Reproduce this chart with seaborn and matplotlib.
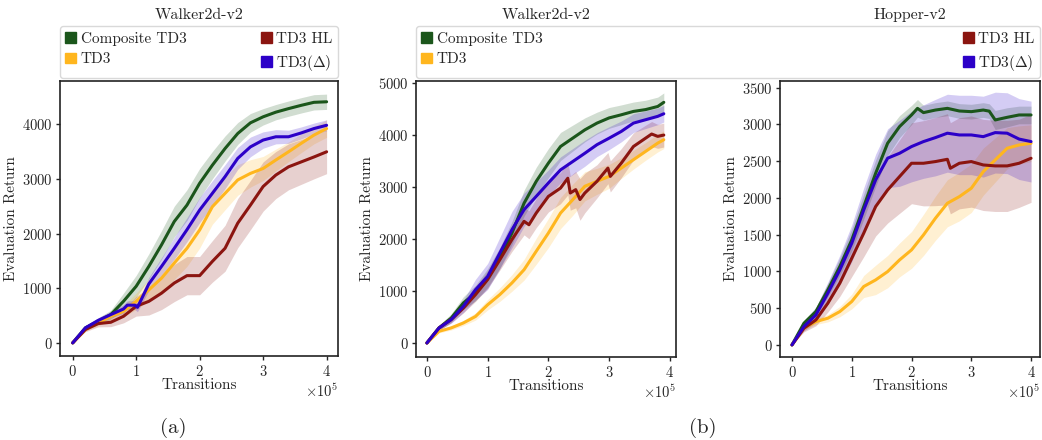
import numpy as np
import pandas as pd
import seaborn as sns
import matplotlib.pyplot as plt
from matplotlib.patches import Patch

# x positions in units of 1e5 transitions
grid = [0, 0.2, 0.4, 0.6, 0.8, 1.0, 1.2, 1.4, 1.6, 1.8, 2.0,
        2.2, 2.4, 2.6, 2.8, 3.0, 3.2, 3.4, 3.6, 3.8, 4.0]
grid_b1 = [0, 0.2, 0.4, 0.6, 0.8, 1.0, 1.2, 1.4, 1.6, 1.8, 2.0,
           2.2, 2.4, 2.6, 2.8, 3.0, 3.2, 3.4, 3.6, 3.8, 3.9]

# ---- (a) Walker2d-v2
a_comp = [0, 275, 395, 517, 760, 1035, 1400, 1795, 2220, 2520, 2920,
          3250, 3555, 3830, 4025, 4135, 4220, 4285, 4345, 4400, 4410]
a_comp_sd = [0, 40, 60, 80, 150, 200, 230, 260, 280, 280, 270,
             250, 230, 200, 170, 150, 140, 140, 140, 140, 140]
a_td3 = [0, 245, 365, 486, 577, 760, 970, 1185, 1460, 1730, 2065,
         2490, 2735, 2980, 3100, 3190, 3345, 3495, 3650, 3800, 3920]
a_td3_sd = [0, 30, 50, 70, 100, 150, 200, 250, 300, 330, 330,
            320, 300, 280, 250, 220, 200, 180, 170, 160, 160]
a_hl = [0, 245, 353, 377, 486, 670, 760, 910, 1095, 1230, 1230,
        1490, 1730, 2190, 2520, 2860, 3070, 3220, 3310, 3400, 3495]
a_hl_sd = [0, 40, 60, 80, 120, 180, 250, 300, 340, 350, 350,
           380, 420, 450, 450, 450, 430, 420, 410, 400, 400]
a_delta_x = [0, 0.2, 0.4, 0.6, 0.8, 0.86, 0.98, 1.02, 1.2, 1.4, 1.6, 1.8,
             2.0, 2.2, 2.4, 2.6, 2.8, 3.0, 3.2, 3.4, 3.6, 3.8, 4.0]
a_delta = [0, 275, 410, 517, 620, 690, 690, 650, 1080, 1400, 1730, 2070,
           2430, 2735, 3040, 3375, 3585, 3710, 3770, 3770, 3840, 3920, 3980]
a_delta_sd = [0, 40, 50, 60, 80, 80, 80, 80, 120, 160, 200, 220,
              230, 230, 220, 200, 180, 150, 130, 120, 110, 100, 100]

# ---- (b) Walker2d-v2
b1_comp = [0, 290, 480, 770, 960, 1250, 1635, 2115, 2690, 3110, 3460,
           3780, 3940, 4100, 4230, 4330, 4390, 4455, 4490, 4550, 4630]
b1_comp_sd = [0, 50, 80, 120, 150, 180, 200, 220, 250, 270, 280,
              270, 250, 230, 210, 200, 190, 180, 180, 180, 180]
b1_td3 = [0, 225, 290, 385, 510, 735, 930, 1155, 1410, 1765, 2115,
          2500, 2755, 3015, 3110, 3205, 3365, 3525, 3685, 3845, 3910]
b1_td3_sd = [0, 30, 40, 50, 70, 100, 130, 160, 200, 250, 280,
             300, 300, 280, 250, 230, 200, 180, 170, 170, 170]
b1_delta = [0, 290, 450, 705, 1025, 1280, 1730, 2180, 2565, 2820, 3080,
            3330, 3490, 3650, 3815, 3940, 4070, 4230, 4295, 4360, 4410]
b1_delta_sd = [0, 40, 70, 120, 200, 250, 300, 350, 320, 280, 250,
               250, 250, 250, 230, 220, 200, 180, 170, 160, 160]
b1_hl_x = [0, 0.2, 0.4, 0.6, 0.8, 1.0, 1.2, 1.4, 1.6, 1.68, 1.8, 2.0, 2.2, 2.32,
           2.36, 2.45, 2.52, 2.6, 2.8, 2.98, 3.02, 3.2, 3.4, 3.6, 3.7, 3.8, 3.9]
b1_hl = [0, 290, 450, 670, 930, 1220, 1600, 1990, 2340, 2275, 2500, 2820, 2980, 3170,
         2885, 2950, 2760, 2885, 3110, 3365, 3205, 3460, 3780, 3940, 4020, 3975, 4000]
b1_hl_sd = [0, 40, 60, 90, 130, 170, 200, 230, 260, 270, 280, 300, 300, 320,
            330, 350, 400, 380, 320, 300, 300, 280, 260, 250, 240, 230, 230]

# ---- (b) Hopper-v2
b2_comp_x = [0, 0.2, 0.4, 0.6, 0.8, 1.0, 1.2, 1.4, 1.6, 1.8, 2.0, 2.1,
             2.2, 2.4, 2.6, 2.8, 3.0, 3.2, 3.3, 3.4, 3.6, 3.8, 4.0]
b2_comp = [0, 295, 453, 748, 1065, 1428, 1880, 2335, 2743, 2970, 3128, 3218,
           3160, 3195, 3218, 3182, 3173, 3195, 3180, 3060, 3096, 3128, 3128]
b2_comp_sd = [0, 40, 60, 90, 120, 150, 170, 180, 170, 150, 130, 120,
              100, 100, 100, 100, 100, 100, 100, 130, 130, 120, 120]
b2_td3 = [0, 227, 317, 363, 453, 590, 794, 884, 997, 1156, 1292,
          1496, 1723, 1927, 2017, 2131, 2357, 2516, 2675, 2720, 2743]
b2_td3_sd = [0, 30, 40, 50, 70, 100, 150, 200, 220, 230, 250,
             280, 300, 320, 330, 330, 320, 300, 280, 260, 250]
b2_delta = [0, 250, 408, 703, 1020, 1383, 1835, 2245, 2540, 2607, 2698,
            2766, 2820, 2880, 2856, 2856, 2833, 2888, 2880, 2800, 2766]
b2_delta_sd = [0, 60, 100, 150, 200, 250, 300, 350, 400, 450, 480,
               500, 520, 530, 540, 540, 550, 550, 550, 550, 550]
b2_hl_x = [0, 0.2, 0.4, 0.6, 0.8, 1.0, 1.2, 1.4, 1.6, 1.8, 2.0, 2.2, 2.4, 2.6,
           2.65, 2.8, 3.0, 3.2, 3.4, 3.6, 3.8, 4.0]
b2_hl = [0, 227, 340, 567, 839, 1179, 1519, 1882, 2108, 2290, 2471, 2471, 2494, 2525,
         2403, 2471, 2494, 2448, 2435, 2435, 2471, 2539]
b2_hl_sd = [0, 50, 80, 120, 180, 250, 320, 400, 450, 500, 550, 580, 600, 620,
            620, 620, 620, 620, 620, 620, 600, 600]

names = ["Composite TD3", "TD3", "TD3 HL", r"TD3($\Delta$)"]
colors = ["#1b561b", "#ffb61e", "#8b1510", "#2c00c8"]

sns.set_style("ticks")
plt.rcParams["font.family"] = "serif"
plt.rcParams["font.serif"] = ["cmr10"]
plt.rcParams["mathtext.fontset"] = "cm"
plt.rcParams["axes.formatter.use_mathtext"] = True
plt.rcParams["axes.unicode_minus"] = False


def build(series):
    rows = []
    for name, xs, ys, sds in series:
        for x, y, s in zip(xs, ys, sds):
            rows.append({"t": x * 1e5, "ret": y, "sd": s, "algo": name})
    return pd.DataFrame(rows)


def draw(ax, df, ylim, yticks):
    for name, c in zip(names, colors):
        d = df[df.algo == name]
        if len(d):
            ax.fill_between(d.t, d.ret - d.sd, d.ret + d.sd, color=c, alpha=0.2, lw=0)
    sns.lineplot(data=df, x="t", y="ret", hue="algo", palette=dict(zip(names, colors)),
                 legend=False, ax=ax, linewidth=2.2, sort=False, estimator=None)
    ax.set_xlim(-0.2e5, 4.18e5)
    ax.set_ylim(*ylim)
    ax.set_xticks([0, 1e5, 2e5, 3e5, 4e5])
    ax.set_yticks(yticks)
    ax.ticklabel_format(axis="x", style="sci", scilimits=(0, 0))
    ax.set_xlabel("Transitions", fontsize=11, labelpad=0)
    ax.set_ylabel("Evaluation Return", fontsize=11, labelpad=3)
    ax.tick_params(labelsize=10.5, length=3, width=1, pad=2.5)
    for sp in ax.spines.values():
        sp.set_visible(True)
        sp.set_linewidth(1.2)
        sp.set_color("#222222")
    ax.xaxis.get_offset_text().set_fontsize(10.5)


fig = plt.figure(figsize=(10.42, 4.4), dpi=100)
ax_a = fig.add_axes([0.0576, 0.1909, 0.2668, 0.625])
ax_b1 = fig.add_axes([0.3992, 0.1886, 0.2495, 0.6273])
ax_b2 = fig.add_axes([0.7486, 0.1886, 0.2495, 0.6273])

df_a = build([
    (names[0], grid, a_comp, a_comp_sd),
    (names[1], grid, a_td3, a_td3_sd),
    (names[2], grid, a_hl, a_hl_sd),
    (names[3], a_delta_x, a_delta, a_delta_sd),
])
df_b1 = build([
    (names[0], grid_b1, b1_comp, b1_comp_sd),
    (names[1], grid_b1, b1_td3, b1_td3_sd),
    (names[2], b1_hl_x, b1_hl, b1_hl_sd),
    (names[3], grid_b1, b1_delta, b1_delta_sd),
])
df_b2 = build([
    (names[0], b2_comp_x, b2_comp, b2_comp_sd),
    (names[1], grid, b2_td3, b2_td3_sd),
    (names[2], b2_hl_x, b2_hl, b2_hl_sd),
    (names[3], grid, b2_delta, b2_delta_sd),
])

draw(ax_a, df_a, (-240, 4790), [0, 1000, 2000, 3000, 4000])
draw(ax_b1, df_b1, (-270, 5040), [0, 1000, 2000, 3000, 4000, 5000])
draw(ax_b2, df_b2, (-165, 3590), [0, 500, 1000, 1500, 2000, 2500, 3000, 3500])
ax_b1.set_xlim(-0.18e5, 4.1e5)
ax_b2.set_xlim(-0.2e5, 4.15e5)

handles = [Patch(color=c, label=n) for n, c in zip(names, colors)]
leg_kw = dict(loc="lower left", mode="expand", ncol=2, fontsize=11, frameon=True,
              handlelength=0.7, handleheight=0.7, handletextpad=0.3,
              borderaxespad=0, borderpad=0.35, labelspacing=0.45, edgecolor="#d0d0d0")
fig.legend(handles=handles, bbox_to_anchor=(0.0576, 0.8227, 0.2668, 0.107), **leg_kw)
fig.legend(handles=handles, bbox_to_anchor=(0.3992, 0.8227, 0.5988, 0.107), **leg_kw)

fig.text(0.191, 0.966, "Walker2d-v2", ha="center", va="center", fontsize=11.5)
fig.text(0.524, 0.966, "Walker2d-v2", ha="center", va="center", fontsize=11.5)
fig.text(0.8734, 0.966, "Hopper-v2", ha="center", va="center", fontsize=11.5)
fig.text(173 / 1042, 1 - 428 / 440, "(a)", ha="center", va="center", fontsize=15)
fig.text(703 / 1042, 1 - 428 / 440, "(b)", ha="center", va="center", fontsize=15)

fig.savefig("out.png", dpi=100)
